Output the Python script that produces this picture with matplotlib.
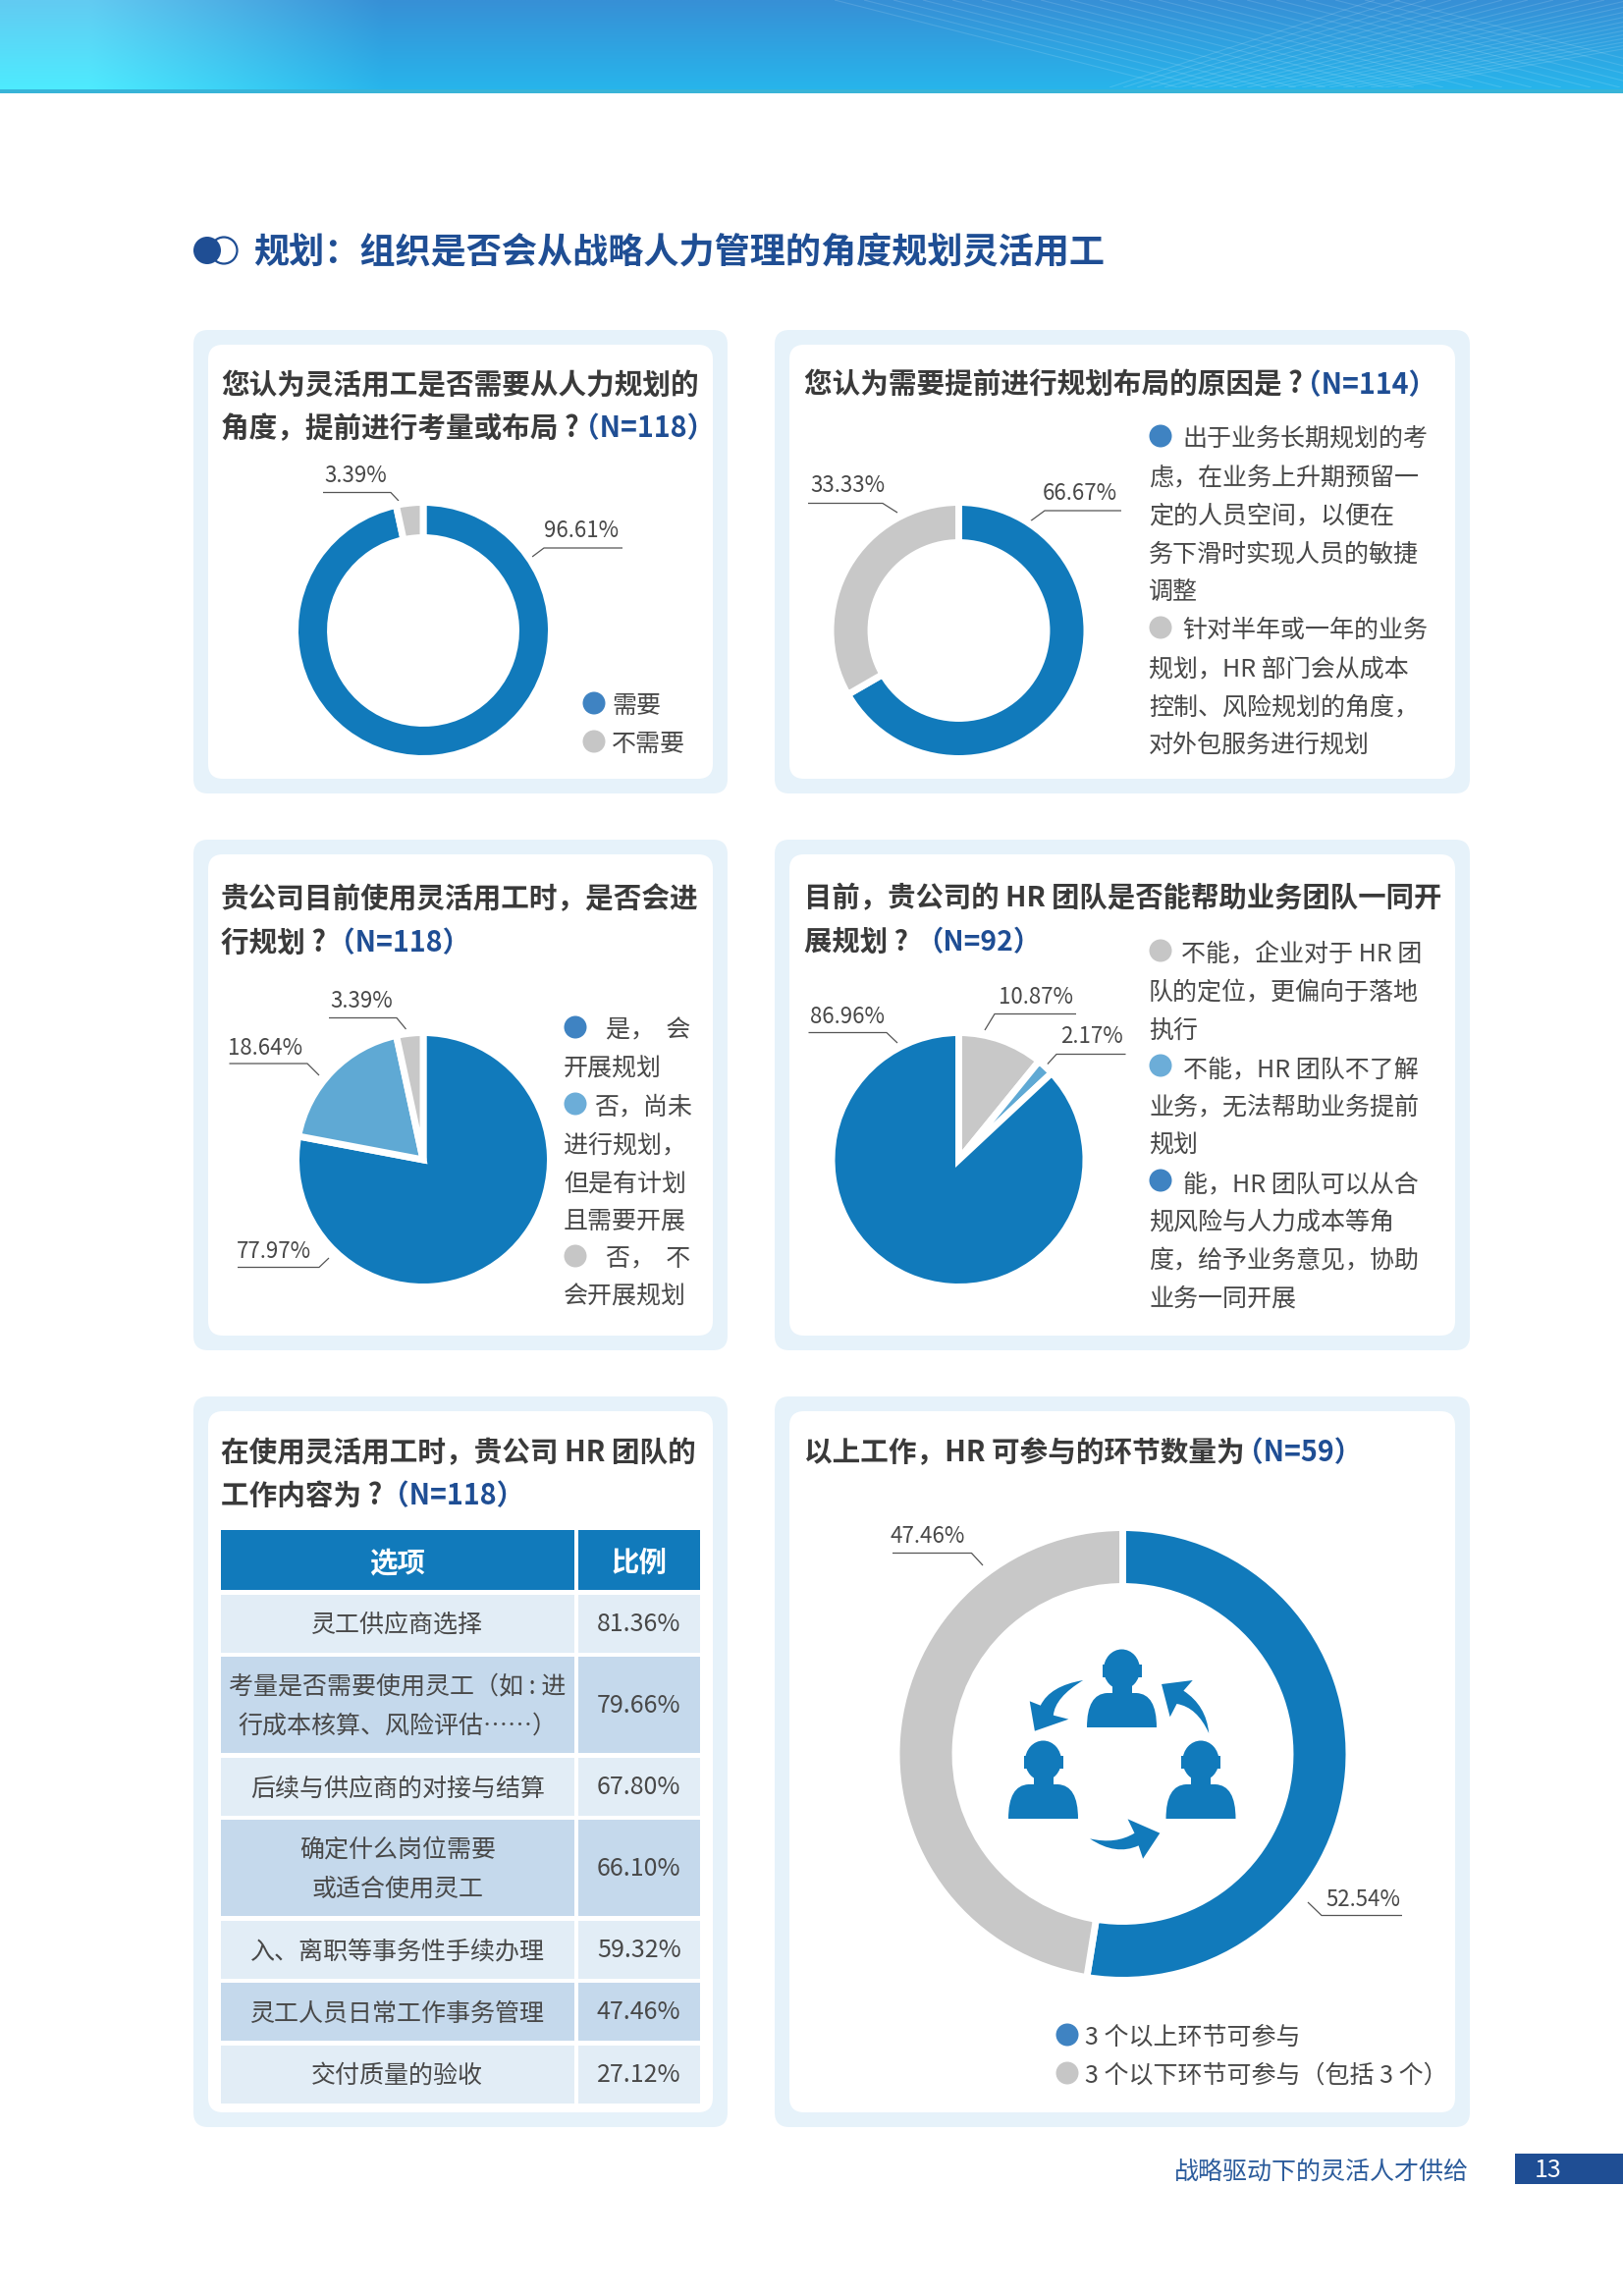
import numpy as np
import matplotlib
matplotlib.use("Agg")
import matplotlib.pyplot as plt
from matplotlib.patches import FancyBboxPatch, Rectangle, Circle, PathPatch, Ellipse
from matplotlib.path import Path
from matplotlib.collections import LineCollection

plt.rcParams['font.family'] = ['Noto Sans CJK SC', 'DejaVu Sans']

# ---------- data ----------
q1_values = [96.61, 3.39]
q2_values = [66.67, 33.33]
q3_values = [77.97, 18.64, 3.39]
q4_values = [10.87, 2.17, 86.96]
q6_values = [52.54, 47.46]
table_options = [["灵工供应商选择"],
                 ["考量是否需要使用灵工（如 : 进", "行成本核算、风险评估……）"],
                 ["后续与供应商的对接与结算"],
                 ["确定什么岗位需要", "或适合使用灵工"],
                 ["入、离职等事务性手续办理"],
                 ["灵工人员日常工作事务管理"],
                 ["交付质量的验收"]]
table_ratios = [81.36, 79.66, 67.80, 66.10, 59.32, 47.46, 27.12]

W, H = 1653, 2338
BLUE, LBLUE, GREY = '#117abb', '#5fa9d4', '#c8c8c8'
BUL_BLUE, BUL_LBLUE, BUL_GREY = '#3f83c2', '#6cadd8', '#c6c6c6'
NAVY = '#1f4e94'
TXT = '#484848'
TITLE = '#3a3a3a'
DY = 3  # text baseline correction

fig = plt.figure(figsize=(W / 100, H / 100), dpi=100, facecolor='white')
ax = fig.add_axes([0, 0, 1, 1])

# ---------- header band ----------
bw, bh = 830, 48
yy = np.linspace(0, 1, bh)[:, None]
xx = np.linspace(0, W, bw)[None, :]
top_l, bot_l = np.array([0x62, 0xcb, 0xf2]), np.array([0x4d, 0xec, 0xff])
top_r, bot_r = np.array([0x37, 0x90, 0xd6]), np.array([0x27, 0xb6, 0xec])
wt = np.clip((390 - xx) / 300, 0, 1)[..., None]
yyy = yy[..., None]
left = top_l * (1 - yyy) + bot_l * yyy
right = top_r * (1 - yyy) + bot_r * yyy
img = (left * wt + right * (1 - wt)) / 255
ax.imshow(img, extent=[0, W, 95, 0], aspect='auto', zorder=1, interpolation='bilinear')
ax.add_patch(Rectangle((0, 91), W, 4, fc='#38b4d8', ec='none', zorder=2))
clip = Rectangle((0, 0), W, 89, transform=ax.transData)
segs = [[(1130 + i * 14, 89), (1400 + i * 26, 0)] for i in range(22)]
segs += [[(850 + i * 30, 0), (1200 + i * 30, 89)] for i in range(20)]
lc = LineCollection(segs, colors='white', linewidths=0.8, alpha=0.13, zorder=3)
ax.add_collection(lc)
lc.set_clip_path(clip)
ax.set_xlim(0, W)
ax.set_ylim(H, 0)
ax.axis('off')

# ---------- page title ----------
ax.add_patch(Circle((228, 255), 13.5, fc='white', ec=NAVY, lw=1.6, zorder=3))
ax.add_patch(Circle((211, 255), 14, fc=NAVY, ec='none', zorder=4))
ax.text(258, 255 + DY, "规划：组织是否会从战略人力管理的角度规划灵活用工", fontsize=26, fontweight='bold',
        color=NAVY, va='center', ha='left', zorder=5)

# ---------- panels ----------
def panel(x0, x1, y0, y1):
    ax.add_patch(FancyBboxPatch((x0, y0), x1 - x0, y1 - y0, boxstyle="round,pad=0,rounding_size=15",
                                fc='#e6f2fa', ec='none', zorder=1))
    ax.add_patch(FancyBboxPatch((x0 + 15, y0 + 15), x1 - x0 - 30, y1 - y0 - 30,
                                boxstyle="round,pad=0,rounding_size=15", fc='white', ec='none', zorder=2))

L = (197, 741)
R = (789, 1497)
for xs, ys in [(L, (336, 808)), (R, (336, 808)), (L, (855, 1375)), (R, (855, 1375)),
               (L, (1422, 2166)), (R, (1422, 2166))]:
    panel(xs[0], xs[1], ys[0], ys[1])

renderer = fig.canvas.get_renderer()

def title(x, ys, lines, n, dx, size=20.6):
    for y, line in zip(ys, lines):
        t = ax.text(x, y + DY, line, fontsize=size, fontweight='bold', color=TITLE, va='center', ha='left', zorder=5)
    bb = t.get_window_extent(renderer)
    ax.text(bb.x1 + dx, ys[-1] + DY, n, fontsize=size, fontweight='bold', color=NAVY, va='center', ha='left', zorder=5)

title(225, [389, 433], ["您认为灵活用工是否需要从人力规划的", "角度，提前进行考量或布局 ?"], "（N=118）", -8)
title(819, [389], ["您认为需要提前进行规划布局的原因是 ?"], "（N=114）", -10)
title(225, [912, 957], ["贵公司目前使用灵活用工时，是否会进", "行规划 ?"], "（N=118）", 1)
title(819, [912, 957], ["目前，贵公司的 HR 团队是否能帮助业务团队一同开", "展规划 ?"], "（N=92）", 7, size=20.4)
title(225, [1476, 1520], ["在使用灵活用工时，贵公司 HR 团队的", "工作内容为 ?"], "（N=118）", -1)
title(819, [1476], ["以上工作，HR 可参与的环节数量为"], "（N=59）", -10)

# ---------- pies ----------
def pie(cx, cy, r, values, colors, ring=None, lw=5.0):
    pad = lw * 100 / 72 / 2
    rr = (r + pad) * 1.02
    a = fig.add_axes([(cx - rr) / W, 1 - (cy + rr) / H, 2 * rr / W, 2 * rr / H], zorder=3)
    a.patch.set_alpha(0)
    wp = dict(edgecolor='white', linewidth=lw)
    if ring:
        wp['width'] = ring / (r + pad)
    a.pie(values, colors=colors, startangle=90, counterclock=False, radius=1.0, wedgeprops=wp)
    a.set_xlim(-1.02, 1.02)
    a.set_ylim(-1.02, 1.02)
    a.set_aspect('equal')
    a.axis('off')

pie(431, 642, 127, q1_values, [BLUE, GREY], ring=36)
pie(976.5, 642, 127, q2_values, [BLUE, GREY], ring=41)
pie(431, 1181, 126, q3_values, [BLUE, LBLUE, GREY])
pie(976.5, 1181, 126, q4_values, [GREY, LBLUE, BLUE])
pie(1143.5, 1786, 227, q6_values, [BLUE, GREY], ring=60)

# ---------- value labels with leader lines ----------
def label(val, tx, ty, pts):
    ax.text(tx, ty + 1.5, f"{val:.2f}%", fontsize=16, color=TXT, ha='center', va='center', zorder=6)
    xs, ys = zip(*pts)
    ax.plot(xs, ys, color='#555555', lw=0.9, zorder=6, solid_capstyle='butt')

label(q1_values[1], 362, 483, [(329, 501.5), (398, 501.5), (406, 510)])
label(q1_values[0], 592, 539, [(634, 558), (554, 558), (542, 567)])
label(q2_values[1], 863, 493, [(823, 512.5), (899, 512.5), (914, 522)])
label(q2_values[0], 1100, 501, [(1142, 520), (1064, 520), (1049, 531)])
label(q3_values[2], 368.5, 1018, [(335, 1036.5), (404, 1036.5), (413.5, 1048)])
label(q3_values[1], 270, 1066, [(233.5, 1083), (313, 1083), (325, 1095)])
label(q3_values[0], 278.5, 1273, [(242, 1290.5), (325, 1290.5), (335, 1281)])
label(q4_values[2], 862.5, 1033.5, [(823.5, 1051.5), (903, 1051.5), (914, 1062)])
label(q4_values[0], 1055, 1014.5, [(1096, 1032.5), (1013, 1032.5), (1003, 1049)])
label(q4_values[1], 1112, 1054.5, [(1146.5, 1073.5), (1076, 1073.5), (1065.5, 1085)])
label(q6_values[1], 945, 1563, [(909, 1581.5), (989.5, 1581.5), (1001, 1594)])
label(q6_values[0], 1388, 1933, [(1332, 1937), (1346, 1950.5), (1428, 1950.5)])

# ---------- legends ----------
def bullet(x, y, c):
    ax.add_patch(Circle((x, y), 11.5, fc=c, ec='none', zorder=6))

def body(x, y, s):
    ax.text(x, y + DY, s, fontsize=18, color=TXT, va='center', ha='left', zorder=6)

bullet(605, 716, BUL_BLUE); body(623, 716, "需要")
bullet(605, 755, BUL_GREY); body(623, 755, "不需要")

x2 = 1170
bullet(1182, 444, BUL_BLUE); body(1204, 444, "出于业务长期规划的考")
for i, s in enumerate(["虑，在业务上升期预留一", "定的人员空间，以便在", "务下滑时实现人员的敏捷", "调整"]):
    body(x2, 483 + 39 * i, s)
bullet(1182, 639, BUL_GREY); body(1204, 639, "针对半年或一年的业务")
for i, s in enumerate(["规划，HR 部门会从成本", "控制、风险规划的角度，", "对外包服务进行规划"]):
    body(x2, 678 + 39 * i, s)

x3 = 574
bullet(586, 1046, BUL_BLUE); body(617, 1046, "是，  会")
body(x3, 1085, "开展规划")
bullet(586, 1124, BUL_LBLUE); body(605, 1124, "否，尚未")
for i, s in enumerate(["进行规划，", "但是有计划", "且需要开展"]):
    body(x3, 1163 + 39 * i, s)
bullet(586, 1279, BUL_GREY); body(617, 1279, "否，  不")
body(x3, 1318, "会开展规划")

bullet(1182, 968, BUL_GREY); body(1203, 969, "不能，企业对于 HR 团")
for i, s in enumerate(["队的定位，更偏向于落地", "执行"]):
    body(x2, 1008 + 39 * i, s)
bullet(1182, 1085, BUL_LBLUE); body(1205, 1086, "不能，HR 团队不了解")
for i, s in enumerate(["业务，无法帮助业务提前", "规划"]):
    body(x2, 1125 + 39 * i, s)
bullet(1182, 1202, BUL_BLUE); body(1205, 1203, "能，HR 团队可以从合")
for i, s in enumerate(["规风险与人力成本等角", "度，给予业务意见，协助", "业务一同开展"]):
    body(x2, 1242 + 39 * i, s)

bullet(1087, 2072, BUL_BLUE); body(1105, 2072, "3 个以上环节可参与")
bullet(1087, 2111, BUL_GREY); body(1105, 2111, "3 个以下环节可参与（包括 3 个）")

# ---------- table ----------
c1 = (224.5, 585)
c2 = (589, 712.5)
ax.add_patch(Rectangle((c1[0], 1558), c1[1] - c1[0], 61, fc=BLUE, ec='none', zorder=3))
ax.add_patch(Rectangle((c2[0], 1558), c2[1] - c2[0], 61, fc=BLUE, ec='none', zorder=3))
ax.text(sum(c1) / 2, 1589 + DY, "选项", fontsize=20.5, fontweight='bold', color='white', ha='center', va='center', zorder=5)
ax.text(sum(c2) / 2, 1589 + DY, "比例", fontsize=20.5, fontweight='bold', color='white', ha='center', va='center', zorder=5)
y = 1623.5
for i, (opt, ratio) in enumerate(zip(table_options, table_ratios)):
    h = 98 if len(opt) == 2 else 59
    fc = '#c5d9ec' if i % 2 else '#e2edf6'
    ax.add_patch(Rectangle((c1[0], y), c1[1] - c1[0], h, fc=fc, ec='none', zorder=3))
    ax.add_patch(Rectangle((c2[0], y), c2[1] - c2[0], h, fc=fc, ec='none', zorder=3))
    mid = y + h / 2
    for j, s in enumerate(opt):
        ax.text(sum(c1) / 2, mid + 2 + (j - (len(opt) - 1) / 2) * 39, s, fontsize=18, color=TXT,
                ha='center', va='center', zorder=5)
    ax.text(sum(c2) / 2, mid + 1, f"{ratio:.2f}%", fontsize=18, color=TXT, ha='center', va='center', zorder=5)
    y += h + 4.5

# ---------- people icon ----------
def person(cx, top):
    ax.add_patch(Ellipse((cx, top + 20), 37, 41, fc=BLUE, ec='none', zorder=5))
    ax.add_patch(Rectangle((cx - 20, top + 15), 40, 13, fc=BLUE, ec='none', zorder=5))
    ax.add_patch(Rectangle((cx - 10, top + 30), 20, 20, fc=BLUE, ec='none', zorder=5))
    b = [(cx - 35.5, top + 79), (cx - 35.5, top + 45), (cx - 15, top + 44), (cx + 15, top + 44),
         (cx + 35.5, top + 45), (cx + 35.5, top + 79), (cx - 35.5, top + 79)]
    codes = [Path.MOVETO, Path.CURVE3, Path.CURVE3, Path.LINETO, Path.CURVE3, Path.CURVE3, Path.CLOSEPOLY]
    ax.add_patch(PathPatch(Path(b, codes), fc=BLUE, ec='none', zorder=5))

person(1142.5, 1680)
person(1062.5, 1773)
person(1223, 1773)

def Z(p):
    return (880 + p[0] / 2.904, 1520 + p[1] / 3)

def arrow(pts):
    verts = [Z(p) for p in pts]
    codes = [Path.MOVETO, Path.CURVE3, Path.CURVE3, Path.LINETO, Path.LINETO, Path.LINETO,
             Path.LINETO, Path.CURVE3, Path.CURVE3, Path.CLOSEPOLY]
    ax.add_patch(PathPatch(Path(verts + [verts[0]], codes), fc=BLUE, ec='none', zorder=5))

arrow([(648, 573), (550, 590), (522, 650), (490, 637), (505, 728), (605, 692), (560, 680),
       (565, 625), (648, 573)])
arrow([(1020, 735), (1012, 650), (945, 605), (972, 573), (880, 585), (905, 685), (925, 645),
       (985, 655), (1020, 735)])
arrow([(668, 1057), (745, 1075), (800, 1040), (780, 997), (875, 1040), (825, 1118), (812, 1078),
       (745, 1110), (668, 1057)])

# ---------- footer ----------
ax.text(1496, 2209 + DY, "战略驱动下的灵活人才供给", fontsize=18, color='#2c5c9c', ha='right', va='center', zorder=5)
ax.add_patch(Rectangle((1543, 2193), 110, 31, fc=NAVY, ec='none', zorder=4))
ax.text(1577, 2209 + 1, "13", fontsize=18, color='white', ha='center', va='center', zorder=5)

fig.savefig('out.png', dpi=100, facecolor='white')
